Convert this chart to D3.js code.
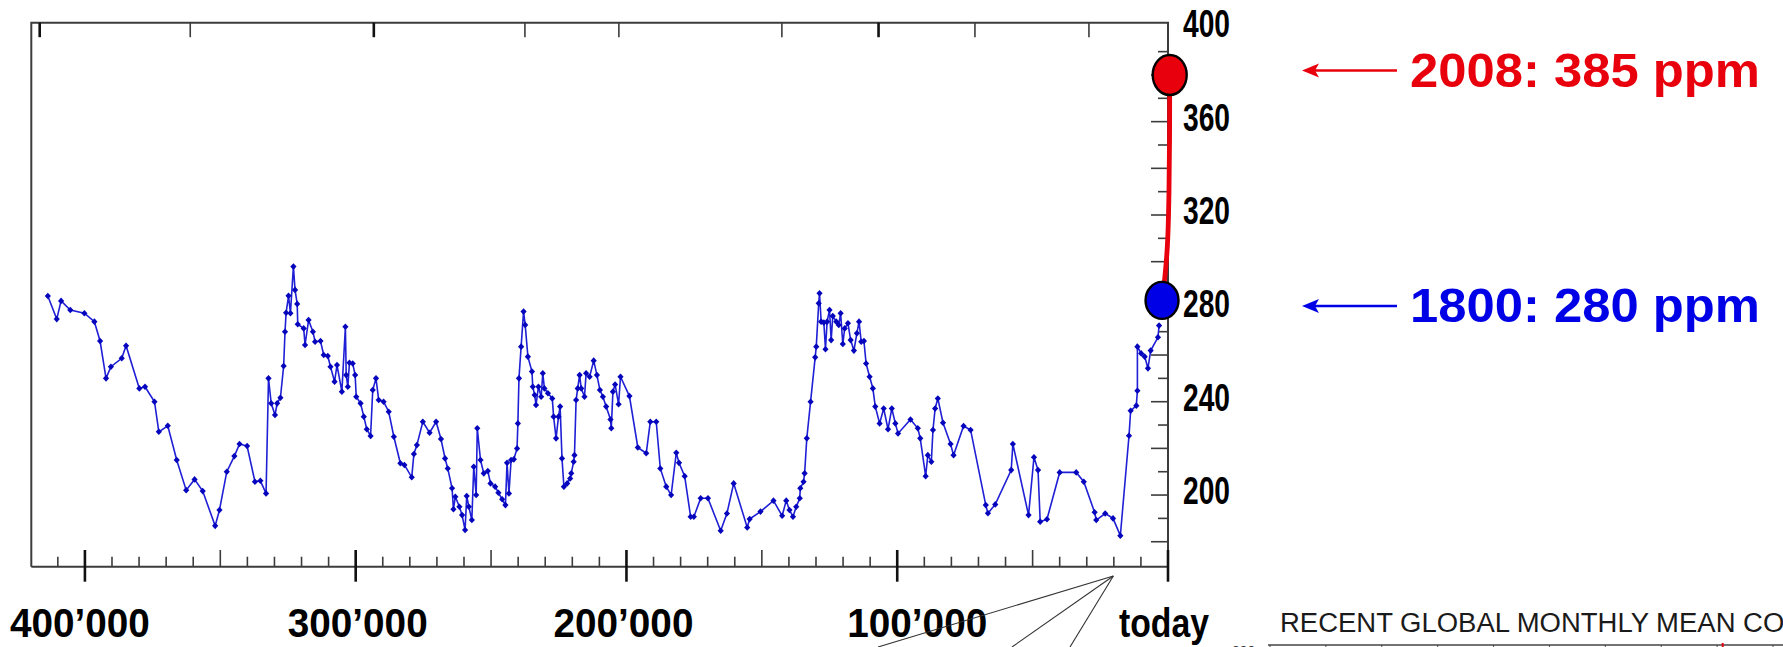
<!DOCTYPE html>
<html lang="en">
<head>
<meta charset="UTF-8">
<title>CO2 over 400'000 years</title>
<script src="https://d3js.org/d3.v7.min.js"></script>
<style>
  body { margin: 0; background: #fff; }
  svg { display: block; font-family: "Liberation Sans", Arial, sans-serif; }
  .frame { stroke: #3c3c3c; stroke-width: 2; fill: none; }
  .tick { stroke: #3c3c3c; stroke-width: 1.6; }
  .tick.major { stroke: #111; stroke-width: 2.6; }
  .label { font-weight: bold; fill: #000; }
</style>
</head>
<body>
<div id="chart"></div>
<script>
// ice core record, years before present / ppm
const iceAge = [
  413700, 410400, 408800, 405400, 400200, 396500, 394400, 392200, 390400, 386400,
  384800, 379900, 377800, 374300, 372700, 369400, 366100, 362600, 359500, 356500,
  351900, 350300, 347600, 344800, 342900, 340100, 337200, 335200, 333100, 332200,
  331200, 329800, 329000, 327800, 326600, 326100, 325700, 324800, 324100, 323000,
  322400, 321600, 321400, 319200, 318700, 317400, 315800, 315000, 313000, 311800,
  310300, 309300, 307800, 306900, 305100, 303800, 303500, 302900, 302300, 301100,
  300200, 299800, 298200, 297000, 295900, 294500, 293700, 292500, 291500, 289700,
  287800, 285900, 283500, 282000, 279300, 278500, 277400, 275200, 272700, 270300,
  268500, 267000, 266000, 264400, 263900, 263200, 261700, 260700, 259600, 259000,
  258200, 257100, 256400, 255500, 255100, 253900, 252700, 251200, 250200, 248500,
  247300, 245900, 244700, 244100, 243400, 242600, 241600, 240400, 240100, 239700,
  238900, 238000, 237400, 236400, 234900, 234600, 233900, 233400, 232500, 231500,
  230900, 230300, 229000, 227400, 226900, 226000, 225100, 224500, 223800, 223100,
  221900, 220800, 220400, 219500, 219200, 218600, 218000, 217300, 216700, 215500,
  214900, 213600, 212100, 210900, 209800, 208700, 207500, 205900, 205600, 205000,
  204200, 202900, 202200, 198900, 195800, 192700, 191200, 189000, 187500, 185300,
  183500, 181600, 180600, 178500, 176300, 175100, 172600, 169900, 165200, 162900,
  160400, 155400, 154500, 150500, 145700, 142500, 141000, 139800, 138500, 137300,
  136000, 135800, 134600, 134200, 133400, 132000, 130300, 129900, 129000, 128700,
  128100, 127100, 126500, 125900, 125000, 124400, 123800, 122500, 121600, 120900,
  120100, 119400, 118200, 117200, 116000, 114900, 114100, 113300, 112300, 111500,
  110200, 109000, 108100, 106500, 105000, 103400, 102000, 100700, 99700, 95100,
  92400, 91500, 89500, 88700, 87400, 86800, 86000, 85000, 83100, 80300,
  79200, 75500, 72900, 67300, 66500, 63800, 57900, 57300, 51500, 49500,
  48000, 47200, 44700, 40000, 33900, 31100, 27100, 26500, 23200, 20300,
  17600, 14400, 13800, 11700, 11300, 11300, 9900, 8600, 7400, 6400,
  3700, 3300
];
const iceCo2 = [
  285.3, 275.4, 283.2, 279.3, 277.9, 274.3, 266.0, 250.0, 255.0, 258.6,
  264.0, 245.7, 246.4, 240.0, 227.1, 229.7, 215.0, 202.1, 206.7, 201.7,
  186.8, 193.6, 210.0, 216.7, 221.9, 221.0, 205.7, 206.1, 200.7, 250.0,
  239.3, 234.3, 239.3, 241.7, 255.3, 270.0, 278.1, 285.4, 277.9, 297.9,
  287.9, 281.9, 273.2, 271.4, 264.3, 275.0, 270.0, 265.7, 266.0, 260.0,
  259.6, 255.0, 248.6, 255.7, 244.3, 272.1, 251.4, 246.4, 256.7, 256.4,
  251.4, 242.1, 239.3, 233.6, 228.2, 225.3, 245.0, 250.0, 240.7, 240.0,
  235.7, 225.0, 213.6, 212.9, 207.6, 217.6, 221.4, 231.4, 226.7, 231.4,
  224.0, 215.7, 211.4, 202.9, 193.9, 199.3, 195.0, 191.4, 185.0, 199.6,
  195.0, 189.3, 212.1, 200.0, 228.6, 215.0, 209.3, 210.3, 205.0, 203.6,
  201.0, 198.2, 195.7, 213.8, 200.7, 215.0, 215.3, 220.0, 230.7, 250.0,
  263.6, 278.6, 272.9, 259.3, 252.9, 246.4, 242.9, 238.6, 246.4, 242.1,
  252.2, 245.7, 243.6, 241.4, 233.6, 224.3, 233.6, 237.9, 215.7, 203.6,
  205.0, 207.1, 209.3, 214.3, 217.1, 240.7, 245.7, 251.4, 245.7, 242.1,
  252.2, 250.7, 257.6, 251.4, 245.0, 242.1, 237.9, 232.4, 228.6, 244.3,
  247.4, 238.9, 250.7, 242.4, 220.4, 217.9, 231.4, 231.4, 211.4, 203.6,
  200.0, 218.1, 213.8, 208.1, 190.7, 190.7, 198.6, 198.6, 184.7, 192.1,
  205.0, 186.1, 189.7, 192.9, 197.6, 191.1, 197.6, 193.6, 190.7, 195.0,
  198.6, 202.9, 205.7, 209.3, 224.3, 240.0, 259.0, 263.6, 282.2, 286.5,
  274.3, 273.9, 262.5, 274.3, 279.3, 266.4, 276.7, 274.3, 272.9, 277.9,
  264.7, 271.4, 273.6, 266.4, 261.9, 269.3, 274.3, 265.7, 266.0, 256.4,
  250.7, 245.7, 237.9, 230.7, 237.1, 228.2, 237.1, 230.7, 226.4, 232.4,
  228.6, 224.3, 208.1, 217.1, 214.3, 227.9, 237.1, 241.4, 231.0, 221.9,
  217.1, 229.6, 227.9, 195.7, 192.2, 196.0, 210.7, 221.9, 191.4, 216.2,
  210.7, 188.6, 189.6, 209.7, 209.7, 205.7, 192.6, 189.3, 192.1, 190.0,
  182.6, 225.4, 236.1, 238.3, 244.7, 263.6, 260.7, 259.3, 254.3, 261.9,
  267.6, 272.6
];

// industrial rise, drawn as in the figure
const recentAge = [2200, 1500, 1200, 600, 0, -400, -600, -630];
const recentCo2 = [283.4, 289, 293, 300, 310, 330, 352, 380];

const markYear = ["1800", "2008"];
const markAge = [2200, -630];
const markCo2 = [283.4, 380];
const markText = ["1800: 280 ppm", "2008: 385 ppm"];
const markColor = ["#0000e6", "#e8000c"];

const xMajor = [400000, 300000, 200000, 100000, 0];
const yLabels = [200, 240, 280, 320, 360, 400];
const topMajor = [416700, 293300, 106900];
const topMinor = [361100, 237500, 202800, 142600, 71300, 29200];

const W = 1783, H = 647;
const x = d3.scaleLinear().domain([419800, 0]).range([31.3, 1168]);
const y = d3.scaleLinear().domain([169.3, 402.4]).range([566.7, 22.7]);
const [xL, xR] = x.range();
const [yB, yT] = y.range();

const svg = d3.select("#chart").append("svg")
    .attr("width", W)
    .attr("height", H);

// frame
svg.append("path").attr("class", "frame")
    .attr("d", `M${xL},${yB}V${yT}H${xR}V${yB}H${xL}`);

// top ticks
svg.append("g").selectAll("line")
    .data(topMajor.map(v => ({v, major: true})).concat(topMinor.map(v => ({v, major: false}))))
    .join("line")
    .attr("class", d => d.major ? "tick major" : "tick")
    .attr("x1", d => x(d.v)).attr("x2", d => x(d.v))
    .attr("y1", yT).attr("y2", yT + 14.5);

// bottom ticks: 10k minor, 50k medium, 100k crossing
const bottomTicks = d3.range(0, 411000, 10000);
svg.append("g").selectAll("line")
    .data(bottomTicks)
    .join("line")
    .attr("class", d => d % 100000 === 0 ? "tick major" : "tick")
    .attr("x1", d => x(d)).attr("x2", d => x(d))
    .attr("y1", d => d % 50000 === 0 ? yB - 16.7 : yB - 10)
    .attr("y2", d => d % 100000 === 0 ? yB + 15 : yB);

const fmt = d => d === 0 ? "today" : d3.format(",")(d).replace(",", "\u2019");
const labelShift = {400000: -5, 300000: 2, 200000: -3, 100000: 20, 0: -4};
svg.append("g").selectAll("text")
    .data(xMajor)
    .join("text")
    .attr("class", "label")
    .attr("x", d => x(d) + (labelShift[d] || 0))
    .attr("y", 637)
    .attr("text-anchor", "middle")
    .attr("font-size", 40)
    .attr("textLength", d => d === 0 ? 90 : 140)
    .attr("lengthAdjust", "spacingAndGlyphs")
    .text(fmt);

// right axis
const rightTicks = d3.range(180, 400, 10);
svg.append("g").selectAll("line")
    .data(rightTicks)
    .join("line")
    .attr("class", "tick")
    .attr("x1", d => d % 20 === 0 ? xR - 17 : xR - 10)
    .attr("x2", xR)
    .attr("y1", d => y(d)).attr("y2", d => y(d));

svg.append("g").selectAll("text")
    .data(yLabels)
    .join("text")
    .attr("class", "label")
    .attr("x", xR + 15)
    .attr("y", d => y(d) + 9)
    .attr("font-size", 39)
    .attr("textLength", 47)
    .attr("lengthAdjust", "spacingAndGlyphs")
    .text(d => d);

// ice core series
const pts = iceAge.map((a, i) => ({age: a, co2: iceCo2[i]}));
const line = d3.line().x(d => x(d.age)).y(d => y(d.co2));

svg.append("path")
    .datum(pts)
    .attr("d", line)
    .attr("fill", "none")
    .attr("stroke", "#1f1fd6")
    .attr("stroke-width", 1.6);

svg.append("g").selectAll("path")
    .data(pts)
    .join("path")
    .attr("d", "M0,-3.3L3.1,0L0,3.3L-3.1,0Z")
    .attr("transform", d => `translate(${x(d.age)},${y(d.co2)})`)
    .attr("fill", "#0505bd");

// recent rise
const recent = recentAge.map((a, i) => ({age: a, co2: recentCo2[i]}));
svg.append("path")
    .datum(recent)
    .attr("d", line.curve(d3.curveBasis))
    .attr("fill", "none")
    .attr("stroke", "#e8000c")
    .attr("stroke-width", 4.8);

// end markers, arrows and texts
const marks = markYear.map((yr, i) => ({yr, age: markAge[i], co2: markCo2[i], text: markText[i], color: markColor[i]}));

svg.append("g").selectAll("ellipse")
    .data(marks)
    .join("ellipse")
    .attr("cx", d => x(d.age))
    .attr("cy", d => y(d.co2))
    .attr("rx", d => d.yr === "2008" ? 17 : 16.5)
    .attr("ry", d => d.yr === "2008" ? 20 : 18.5)
    .attr("fill", d => d.color)
    .attr("stroke", "#000")
    .attr("stroke-width", 2.4);

const arrowTip = 1302, arrowTail = 1397;
const ann = svg.append("g").selectAll("g")
    .data(marks)
    .join("g")
    .attr("transform", d => `translate(0,${d.yr === "2008" ? 70.5 : 306})`);

ann.append("line")
    .attr("x1", arrowTip + 12).attr("x2", arrowTail)
    .attr("y1", 0).attr("y2", 0)
    .attr("stroke", d => d.color)
    .attr("stroke-width", 2.4);

ann.append("path")
    .attr("d", `M${arrowTip},0L${arrowTip + 17},-7L${arrowTip + 13},0L${arrowTip + 17},7Z`)
    .attr("fill", d => d.color);

ann.append("text")
    .attr("class", "label")
    .attr("x", arrowTail + 13)
    .attr("y", 16)
    .attr("font-size", 48)
    .attr("textLength", 350)
    .attr("lengthAdjust", "spacingAndGlyphs")
    .style("fill", d => d.color)
    .text(d => d.text);

// callout lines toward the inset
const callApex = {age: 20000, y: 576};
const callEnds = [878, 1012, 1070];
svg.append("g").selectAll("line")
    .data(callEnds)
    .join("line")
    .attr("x1", x(callApex.age) - 0.5).attr("y1", callApex.y)
    .attr("x2", d => d).attr("y2", H)
    .attr("stroke", "#333")
    .attr("stroke-width", 1.1);

// start of the inset chart at bottom right
svg.append("text")
    .attr("x", 1280)
    .attr("y", 632)
    .attr("font-size", 27)
    .attr("fill", "#1a1a1a")
    .attr("textLength", 515)
    .attr("lengthAdjust", "spacingAndGlyphs")
    .text("RECENT GLOBAL MONTHLY MEAN CO\u2082");

const insetX = d3.scaleLinear().domain([0, 9]).range([1270, 1773]);
svg.append("line")
    .attr("x1", 1268).attr("x2", W)
    .attr("y1", 645).attr("y2", 645)
    .attr("stroke", "#444").attr("stroke-width", 1.5);
svg.append("g").selectAll("line")
    .data(d3.range(0, 10))
    .join("line")
    .attr("x1", d => insetX(d)).attr("x2", d => insetX(d))
    .attr("y1", 645).attr("y2", H)
    .attr("stroke", "#444").attr("stroke-width", 1);
svg.append("line")
    .attr("x1", insetX(8.1)).attr("x2", insetX(8.1))
    .attr("y1", 643).attr("y2", H)
    .attr("stroke", "#e8000c").attr("stroke-width", 2);
svg.append("text")
    .attr("x", 1232).attr("y", 656)
    .attr("font-size", 14)
    .attr("fill", "#333")
    .text("390");
</script>
</body>
</html>
